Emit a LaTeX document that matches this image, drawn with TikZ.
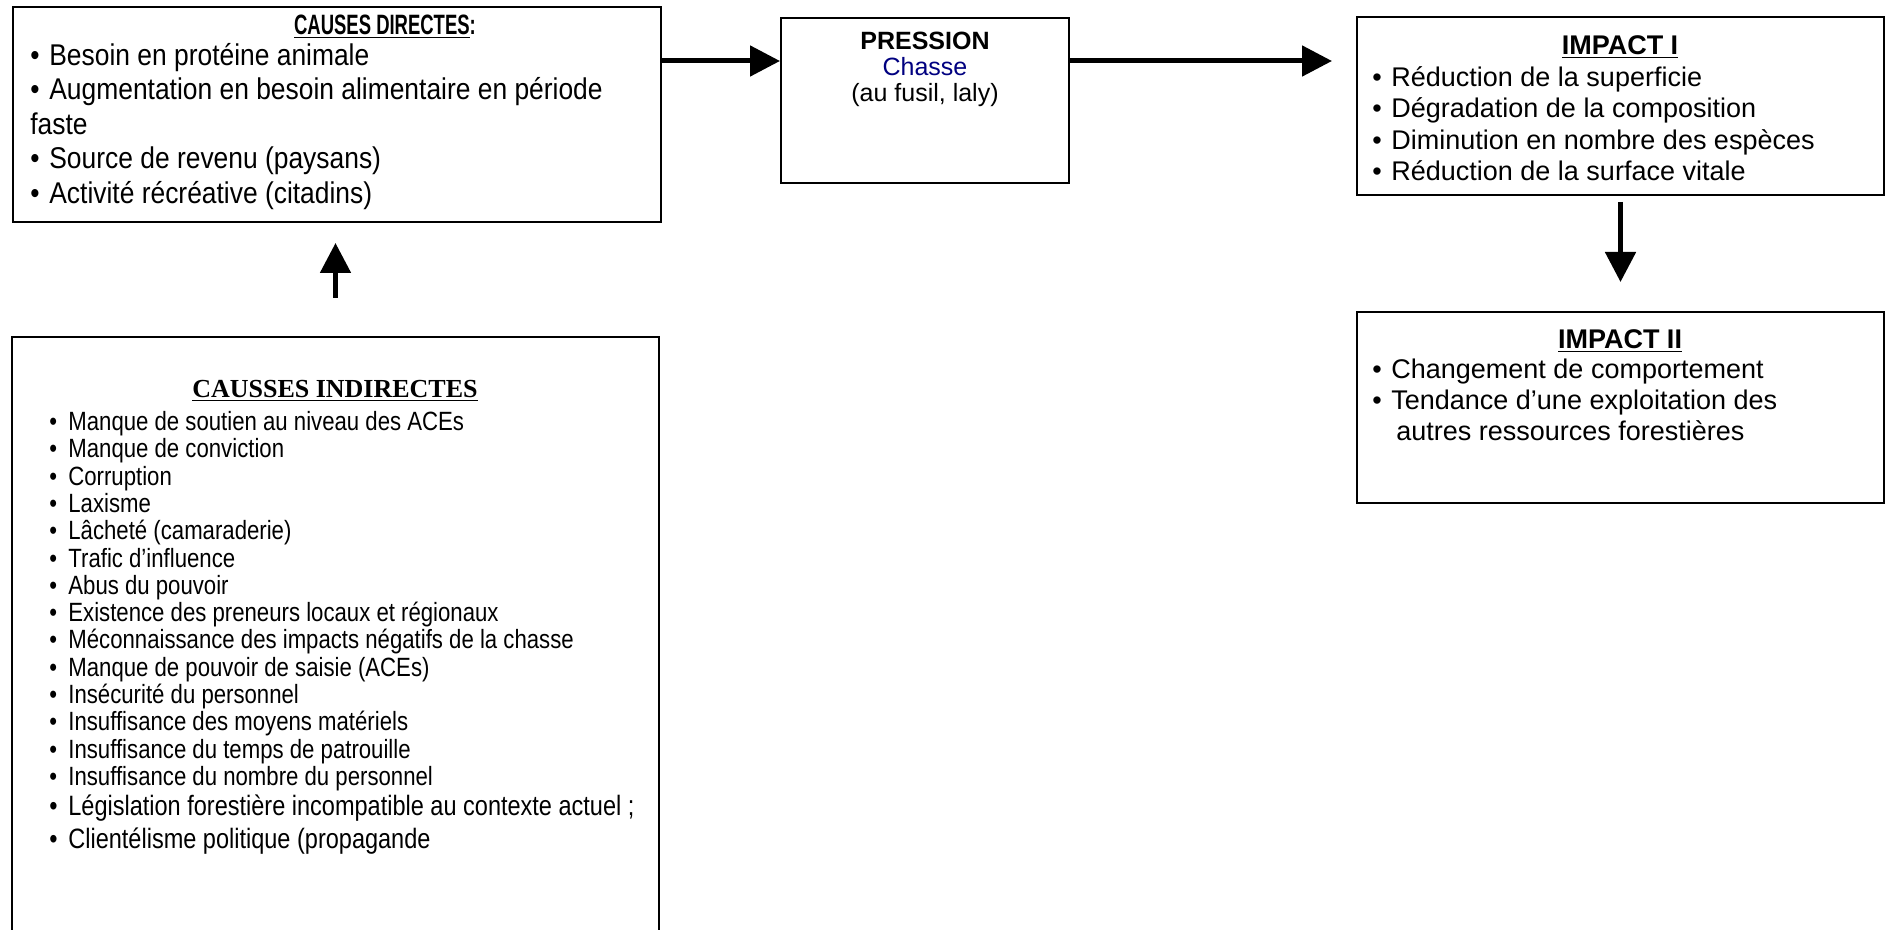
\documentclass[tikz,border=0pt]{standalone}
\usepackage{fontspec}
\setmainfont{Liberation Sans}
\newfontfamily\narrowsf[FakeStretch=0.84]{Liberation Sans}
\newfontfamily\widenarrowsf[FakeStretch=0.88]{Liberation Sans}
\newfontfamily\narrowbf[FakeStretch=0.66]{Liberation Sans Bold}
\newfontfamily\timesbf{Liberation Serif}
\usetikzlibrary{positioning,fit,arrows.meta}
\definecolor{navy}{HTML}{000080}
\newcommand{\bul}{\makebox[9.5pt][l]{\textbullet}}
\tikzset{
  % --- nodes
  box/.style  = {draw=black, line width=1pt, inner sep=0pt},
  ttl/.style  = {font=\fontsize{13.5}{16}\selectfont\bfseries, inner sep=0pt},
  lst/.style  = {align=left, anchor=north west, inner sep=0pt},
  % --- edges
  arr/.style  = {-{Triangle[length=15pt,width=15pt]}, line width=2.5pt},
}
\begin{document}
\begin{tikzpicture}[x=0.5pt,y=-0.5pt]
  \useasboundingbox (0,0) rectangle (1885,930);
  \clip (0,0) rectangle (1885,930);
  % boxes
  \node[box, fit={(13,7) (661,222)}]     (cd)  {};
  \node[box, fit={(781,18) (1069,183)}]  (pr)  {};
  \node[box, fit={(1357,17) (1884,195)}] (im1) {};
  \node[box, fit={(1357,312) (1884,503)}] (im2) {};
  \node[box, fit={(12,337) (659,960)}]   (ci)  {};
  % causes directes
  \node[inner sep=0pt, font=\narrowbf\fontsize{14}{16}\selectfont] (cdt) at (385,27)
    {\underline{CAUSES DIRECTES}:};
  \node[lst, font=\widenarrowsf\fontsize{15}{17.2}\selectfont] (cdl) at (30,43)
    {\bul Besoin en protéine animale\\
     \bul Augmentation en besoin alimentaire en période\\
     faste\\
     \bul Source de revenu (paysans)\\
     \bul Activité récréative (citadins)};
  % pression
  \node[align=center, anchor=north, inner sep=0pt,
        font=\fontsize{12.5}{12.8}\selectfont] (prt) at (925,32)
    {\textbf{PRESSION}\\\textcolor{navy}{Chasse}\\(au fusil, laly)};
  % impacts
  \node[ttl] (im1t) at (1620,47) {\underline{IMPACT I}};
  \node[lst, font=\fontsize{13.5}{15.75}\selectfont] (im1l) at (1372,66)
    {\bul Réduction de la superficie\\
     \bul Dégradation de la composition\\
     \bul Diminution en nombre des espèces\\
     \bul Réduction de la surface vitale};
  \node[ttl] (im2t) at (1620,341) {\underline{IMPACT II}};
  \node[lst, font=\fontsize{13.5}{15.5}\selectfont] (im2l) at (1372,359)
    {\bul Changement de comportement\\
     \bul Tendance d’une exploitation des\\
     \hspace{12pt}autres ressources forestières};
  % causes indirectes
  \node[inner sep=0pt, font=\timesbf\bfseries\fontsize{13}{16}\selectfont] (cit) at (335,391)
    {\underline{CAUSSES INDIRECTES}};
  \node[lst, font=\narrowsf\fontsize{13.2}{13.65}\selectfont] (cil) at (49,411)
    {\bul Manque de soutien au niveau des ACEs\\
     \bul Manque de conviction\\
     \bul Corruption\\
     \bul Laxisme\\
     \bul Lâcheté (camaraderie)\\
     \bul Trafic d’influence\\
     \bul Abus du pouvoir\\
     \bul Existence des preneurs locaux et régionaux\\
     \bul Méconnaissance des impacts négatifs de la chasse\\
     \bul Manque de pouvoir de saisie (ACEs)\\
     \bul Insécurité du personnel\\
     \bul Insuffisance des moyens matériels\\
     \bul Insuffisance du temps de patrouille\\
     \bul Insuffisance du nombre du personnel\\[1.6pt]
     {\fontsize{14}{13.65}\selectfont\bul Législation forestière incompatible au contexte actuel ;}\\[2.8pt]
     {\fontsize{14}{13.65}\selectfont\bul Clientélisme politique (propagande}};
  % connectors
  \coordinate (lvl) at (0,61);
  \draw[arr] (cd.east |- lvl) -- (pr.west |- lvl);
  \draw[arr, shorten >=12pt] (pr.east |- lvl) -- (im1.west |- lvl);
  \draw[arr, shorten <=3pt, shorten >=14.5pt] (im1.south) -- (im2.north);
  \draw[arr, shorten <=19pt, shorten >=10pt] (ci.north) -- (ci.north |- cd.south);
\end{tikzpicture}
\end{document}
